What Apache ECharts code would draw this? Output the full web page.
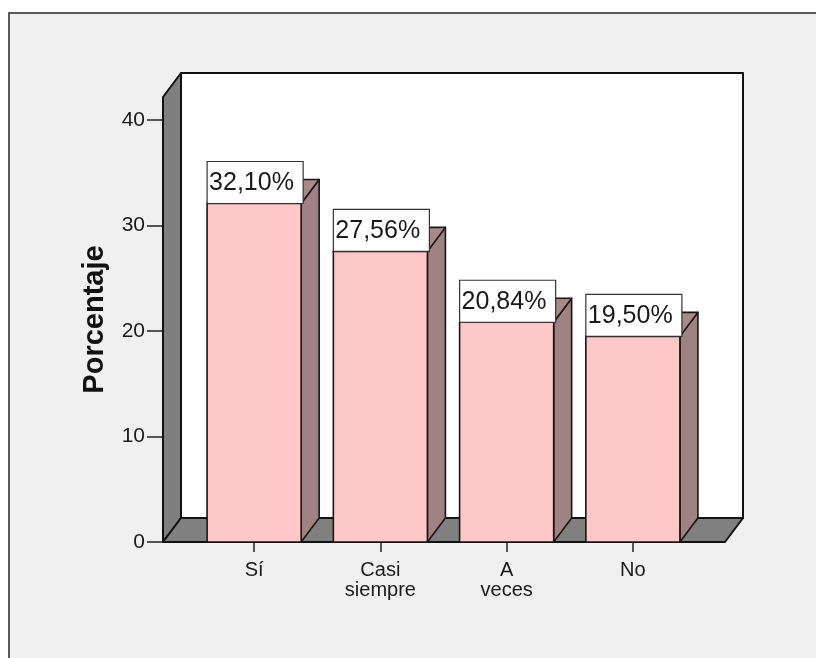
<!DOCTYPE html>
<html>
<head>
<meta charset="utf-8">
<script src="https://cdn.jsdelivr.net/npm/echarts@6.0.0/dist/echarts.min.js"></script>
<style>
  html, body { margin: 0; padding: 0; background: #fff; }
  #chart { width: 816px; height: 658px; }
</style>
</head>
<body>
<div id="chart"></div>
<script>
// datos
var categories = ['Sí', 'Casi\nsiempre', 'A\nveces', 'No'];
var percentages = [32.10, 27.56, 20.84, 19.50];
var yTicks = [0, 10, 20, 30, 40];

var FONT = '"Liberation Sans", Arial, sans-serif';
var DX = 18, DY = 24;          // profundidad 3D
var PAD_L = 28, PAD_R = 29;    // suelo más ancho que las categorías
var EDGE = '#1c1414';

var chart = echarts.init(document.getElementById('chart'));

// ── fondo 3D: pared lateral, pared trasera y suelo ──
function renderBackdrop(params, api) {
    var cs = params.coordSys;
    var x0 = cs.x - PAD_L, x1 = cs.x + cs.width + PAD_R;
    var yT = cs.y, yB = cs.y + cs.height;
    var line = { stroke: '#111', lineWidth: 2, lineJoin: 'round' };
    return {
        type: 'group',
        children: [
            { type: 'rect', shape: { x: x0 + DX, y: yT - DY, width: x1 - x0, height: yB - yT },
              style: Object.assign({ fill: '#fff' }, line) },
            { type: 'polygon', shape: { points: [[x0, yT], [x0 + DX, yT - DY], [x0 + DX, yB - DY], [x0, yB]] },
              style: Object.assign({ fill: '#7f7f7f' }, line) },
            { type: 'polygon', shape: { points: [[x0, yB], [x0 + DX, yB - DY], [x1 + DX, yB - DY], [x1, yB]] },
              style: Object.assign({ fill: '#808080' }, line) }
        ]
    };
}

// ── barras 3D con etiqueta en caja ──
function renderBar(params, api) {
    var i = api.value(0), v = api.value(1);
    var top = api.coord([i, v]), base = api.coord([i, 0]);
    var w = api.size([1, 0])[0] * 0.745;
    var x0 = top[0] - w / 2, x1 = top[0] + w / 2;
    var yT = top[1], yB = base[1];
    var line = { stroke: EDGE, lineWidth: 1.6, lineJoin: 'round' };
    var txt = v.toFixed(2).replace('.', ',') + '%';
    return {
        type: 'group',
        children: [
            { type: 'polygon', shape: { points: [[x1, yB], [x1, yT], [x1 + DX, yT - DY], [x1 + DX, yB - DY]] },
              style: Object.assign({ fill: '#9f8282' }, line) },
            { type: 'polygon', shape: { points: [[x0, yT], [x0 + DX, yT - DY], [x1 + DX, yT - DY], [x1, yT]] },
              style: Object.assign({ fill: '#a88a8a' }, line) },
            { type: 'rect', shape: { x: x0, y: yT, width: w, height: yB - yT },
              style: Object.assign({ fill: '#fec8c8' }, line) },
            { type: 'rect', shape: { x: x0, y: yT - 42, width: w + 2, height: 42 },
              style: { fill: '#fff', stroke: '#333', lineWidth: 1.2 } },
            { type: 'text', x: x0 + 2, y: yT - 20,
              style: { text: txt, fill: '#1a1a1a', font: '25px ' + FONT, verticalAlign: 'middle', align: 'left' } }
        ]
    };
}

chart.setOption({
    backgroundColor: '#fff',
    animation: false,
    graphic: [{
        type: 'rect', z: -10, silent: true,
        shape: { x: 9, y: 13, width: 840, height: 700 },
        style: { fill: '#f0f0f0', stroke: '#5a5a5a', lineWidth: 2 }
    }],
    grid: { left: 191, right: 120, top: 97, bottom: 116 },
    xAxis: {
        type: 'category',
        data: categories,
        axisLine: { show: false },
        axisTick: { show: true, alignWithLabel: true, length: 10, lineStyle: { color: '#222', width: 1.5 } },
        axisLabel: { margin: 18, color: '#1a1a1a', fontSize: 20, lineHeight: 20, fontFamily: FONT },
        splitLine: { show: false }
    },
    yAxis: {
        type: 'value',
        min: 0,
        max: 42.2,
        offset: PAD_L,
        name: 'Porcentaje',
        nameLocation: 'middle',
        nameGap: 54,
        nameTextStyle: { fontSize: 29, fontWeight: 'bold', color: '#111', fontFamily: FONT },
        axisLine: { show: false },
        axisTick: { show: true, length: 16, customValues: yTicks, lineStyle: { color: '#222', width: 1.5 } },
        axisLabel: { margin: 18, color: '#1a1a1a', fontSize: 21, fontFamily: FONT, customValues: yTicks },
        splitLine: { show: false }
    },
    series: [
        {
            type: 'custom',
            silent: true,
            z: 1,
            renderItem: renderBackdrop,
            data: [[0, 0]]
        },
        {
            type: 'custom',
            z: 3,
            renderItem: renderBar,
            data: percentages.map(function (v, i) { return [i, v]; })
        }
    ]
});

window.addEventListener('resize', function () { chart.resize(); });
</script>
</body>
</html>
